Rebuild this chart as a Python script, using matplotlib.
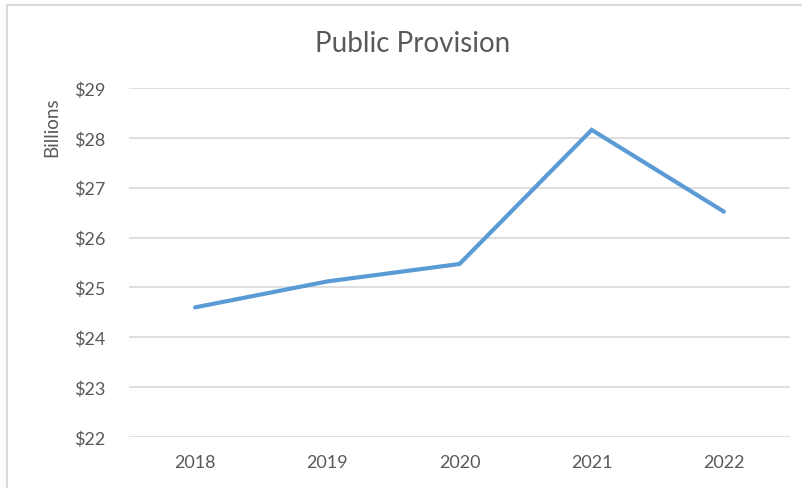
import matplotlib
matplotlib.use("Agg")
import matplotlib.pyplot as plt
from matplotlib.patches import Rectangle

years = ["2018", "2019", "2020", "2021", "2022"]
values = [24.60, 25.12, 25.47, 28.16, 26.52]
y_ticks = [22, 23, 24, 25, 26, 27, 28, 29]
y_labels = ["$22", "$23", "$24", "$25", "$26", "$27", "$28", "$29"]

plt.rcParams['font.family'] = ['Lato', 'DejaVu Sans']
W, H = 803, 489
fig = plt.figure(figsize=(W / 100, H / 100), dpi=100)
fig.patch.set_facecolor("white")

# outer chart border (Excel chart area)
fig.add_artist(Rectangle((7 / W, -0.1), 1.2, (H - 6) / H + 0.1, transform=fig.transFigure,
                         fill=False, edgecolor="#D9D9D9", linewidth=1.5))

left, right, top, bottom = 129, 790, 89, 438
ax = fig.add_axes([left / W, 1 - bottom / H, (right - left) / W, (bottom - top) / H])
x = list(range(len(years)))
ax.plot(x, values, color="#5B9BD5", linewidth=3.0, solid_capstyle="round", solid_joinstyle="miter")
ax.set_xlim(-0.5, len(years) - 0.5)
ax.set_ylim(22, 29)
ax.set_yticks(y_ticks)
ax.set_yticklabels(y_labels)
ax.set_xticks(x)
ax.set_xticklabels(years)
ax.yaxis.grid(True, color="#D9D9D9", linewidth=1.2)
ax.set_axisbelow(True)
for s in ax.spines.values():
    s.set_visible(False)
ax.tick_params(axis="both", length=0, labelsize=13, colors="#595959")
ax.tick_params(axis="y", pad=17)
ax.tick_params(axis="x", pad=12)

fig.text(413 / W, 1 - 44 / H, "Public Provision", ha="center", va="center",
         fontsize=20, color="#595959")
fig.text(52 / W, 1 - 127 / H, "Billions", ha="center", va="center", rotation=90,
         fontsize=13.5, color="#595959")

fig.savefig("out.png", dpi=100)
